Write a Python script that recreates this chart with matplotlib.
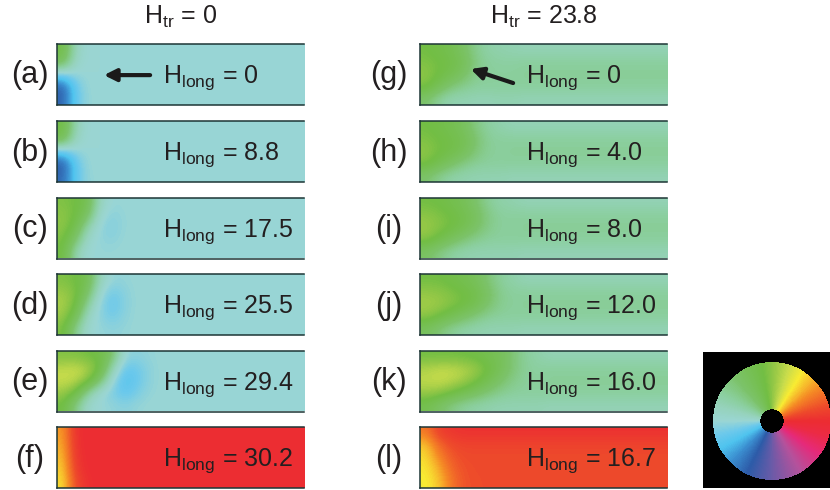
import matplotlib
matplotlib.use('Agg')
import matplotlib.pyplot as plt
import numpy as np
from matplotlib.colors import LinearSegmentedColormap

plt.rcParams['font.family'] = ['Liberation Sans', 'DejaVu Sans']
plt.rcParams['mathtext.fontset'] = 'custom'
plt.rcParams['mathtext.rm'] = 'Liberation Sans'
plt.rcParams['mathtext.it'] = 'Liberation Sans:italic'

W, H = 830, 490

# magnetisation angle (deg, counter-clockwise from +x) -> colour
wheel_angles = [0, 15, 35, 58, 72, 85, 100, 130, 150, 165, 180, 195, 208,
                225, 245, 270, 300, 325, 345, 360]
wheel_colors = ['#ec2d32', '#ee4b2b', '#f58a25', '#f9ec33', '#c9dc4c', '#9aca47',
                '#72be44', '#7cc36a', '#8bcf9d', '#96d3bd', '#9bd6d4', '#6cc9ec',
                '#4fc4ef', '#3b8ed0', '#2d5ba8', '#6a5ba8', '#b5529c', '#e62a7a',
                '#ec2b45', '#ec2d32']

# field values per panel
h_tr = ['0', '23.8']
labels_left = ['(a)', '(b)', '(c)', '(d)', '(e)', '(f)']
labels_right = ['(g)', '(h)', '(i)', '(j)', '(k)', '(l)']
h_long_left = ['0', '8.8', '17.5', '25.5', '29.4', '30.2']
h_long_right = ['0', '4.0', '8.0', '12.0', '16.0', '16.7']

# coarse angle maps: 5 rows x 20 columns; explicit left part, rest = row background
bg_cyan = [180, 180, 180, 180, 180]
bg_mint = [162, 150, 148, 150, 162]

map_a = [[105, 165, 180], [118, 172, 180], [192, 182, 180],
         [242, 196, 180], [242, 198, 181]]
map_b = [[102, 160, 180], [112, 168, 180], [200, 184, 180],
         [245, 200, 180], [240, 200, 182]]
map_c = [[95, 100, 112, 168, 182, 180], [90, 100, 125, 178, 186, 181],
         [90, 108, 158, 184, 188, 181], [95, 130, 174, 183, 185, 180],
         [100, 158, 180, 181, 181, 180]]
map_d = [[95, 100, 112, 165, 183, 182, 180], [85, 95, 125, 178, 194, 185, 180],
         [80, 98, 150, 186, 198, 186, 180], [85, 115, 170, 185, 193, 184, 180],
         [95, 145, 177, 182, 184, 182, 180]]
map_e = [[95, 95, 100, 105, 130, 183, 185, 182, 180],
         [75, 72, 80, 100, 160, 198, 194, 184, 180],
         [72, 75, 90, 130, 182, 205, 196, 184, 180],
         [85, 100, 150, 180, 190, 200, 190, 182, 180],
         [100, 140, 175, 180, 183, 186, 182, 180, 180]]
map_f = [[40, 2, 0], [44, 3, 0], [48, 5, 0], [52, 8, 0], [56, 14, 2]]
bg_f = [0, 0, 0, 0, 0]

map_g = [[100, 105, 110, 125, 145, 155, 158, 160],
         [95, 100, 105, 115, 140, 150, 152, 152],
         [90, 100, 110, 125, 145, 150, 150, 150],
         [95, 115, 135, 145, 150, 150, 150, 150],
         [130, 150, 160, 160, 162, 162, 160, 160]]
map_h = [[100, 105, 110, 120, 140, 152, 158],
         [95, 100, 105, 112, 130, 148, 150],
         [90, 98, 105, 115, 135, 148, 150],
         [95, 110, 125, 140, 148, 150, 150],
         [130, 145, 155, 158, 160, 160, 160]]
map_i = [[100, 102, 108, 115, 130, 148, 156, 158],
         [90, 95, 100, 108, 120, 140, 150, 150],
         [85, 92, 100, 110, 125, 142, 150, 150],
         [92, 105, 120, 135, 145, 150, 150, 150],
         [125, 140, 152, 158, 160, 160, 160, 160]]
map_j = [[100, 100, 105, 110, 118, 135, 150, 156],
         [88, 90, 95, 100, 108, 125, 145, 150],
         [82, 85, 92, 100, 110, 130, 145, 150],
         [90, 100, 112, 125, 138, 148, 150, 150],
         [120, 135, 148, 155, 158, 160, 160, 160]]
map_k = [[100, 100, 100, 102, 105, 110, 118, 135, 150, 156],
         [80, 75, 75, 78, 85, 100, 115, 135, 148, 152],
         [75, 72, 75, 82, 95, 110, 128, 142, 150, 150],
         [85, 88, 98, 110, 122, 135, 145, 150, 150, 150],
         [110, 125, 140, 150, 155, 158, 160, 160, 160, 160]]
map_l = [[30, 10, 5, 3, 3], [50, 25, 15, 12, 12], [55, 35, 20, 15, 15],
         [58, 45, 25, 17, 15], [60, 50, 30, 18, 16]]
bg_l = [3, 12, 15, 15, 15]

maps_left = [(map_a, bg_cyan), (map_b, bg_cyan), (map_c, bg_cyan),
             (map_d, bg_cyan), (map_e, bg_cyan), (map_f, bg_f)]
maps_right = [(map_g, bg_mint), (map_h, bg_mint), (map_i, bg_mint),
              (map_j, bg_mint), (map_k, bg_mint), (map_l, bg_l)]

cmap = LinearSegmentedColormap.from_list(
    'hue', [(a / 360, c) for a, c in zip(wheel_angles, wheel_colors)])
cmap.set_bad((0, 0, 0, 0))

fig = plt.figure(figsize=(W / 100, H / 100), dpi=100)


def px_axes(x, y, w, h):
    return fig.add_axes([x / W, 1 - (y + h) / H, w / W, h / H])


def build_grid(block, bg, ncols=20):
    grid = np.tile(np.array(bg, dtype=float)[:, None], (1, ncols))
    for r, row in enumerate(block):
        grid[r, :len(row)] = row
    return grid


panel_w, panel_h = 247, 61
tops = [44, 121, 197.5, 274, 350.5, 427]
cols = [(57, labels_left, h_long_left, maps_left),
        (420, labels_right, h_long_right, maps_right)]

for col_i, (x0, labels, hl, maps) in enumerate(cols):
    fig.text((x0 + panel_w / 2) / W, 1 - 17 / H, r'H$_{\mathrm{tr}}$ = ' + h_tr[col_i],
             ha='center', va='center', fontsize=18, color='#231f20')
    for i, top in enumerate(tops):
        ax = px_axes(x0, top, panel_w, panel_h)
        block, bg = maps[i]
        ax.imshow(build_grid(block, bg), extent=(0, 1, 0, 1), aspect='auto',
                  cmap=cmap, vmin=0, vmax=360, interpolation='bicubic',
                  interpolation_stage='data')
        ax.set_xlim(0, 1)
        ax.set_ylim(0, 1)
        ax.set_xticks([])
        ax.set_yticks([])
        ax.spines['right'].set_visible(False)
        for s in ['top', 'bottom', 'left']:
            ax.spines[s].set_color('#1d3535')
            ax.spines[s].set_linewidth(1.1)
        ax.text(0.43, 0.36, r'H$_{\mathrm{long}}$ = ' + hl[i], transform=ax.transAxes,
                ha='left', va='baseline', fontsize=18, color='#231f20')
        lx = 30 if col_i == 0 else 389
        fig.text(lx / W, 1 - (top + panel_h / 2 + 1) / H, labels[i],
                 ha='center', va='center', fontsize=22, color='#231f20')

        if i == 0:
            if col_i == 0:
                tail, tip = (0.377, 0.49), (0.19, 0.49)
            else:
                tail, tip = (0.377, 0.36), (0.205, 0.59)
            ax.annotate('', xy=tip, xytext=tail, xycoords='axes fraction',
                        arrowprops=dict(arrowstyle='-|>', lw=3, color='#1a1a1a',
                                        mutation_scale=18, shrinkA=0, shrinkB=0))

# colour wheel legend
bg_ax = px_axes(703, 352, 127, 136)
bg_ax.set_facecolor('black')
bg_ax.set_xticks([])
bg_ax.set_yticks([])
for s in bg_ax.spines.values():
    s.set_visible(False)

wax = px_axes(713, 362, 118, 118)
wax.set_axis_off()
g = np.linspace(-1, 1, 240)
xx, yy = np.meshgrid(g, g)
rr = np.hypot(xx, yy)
ang = np.degrees(np.arctan2(yy, xx)) % 360
ang[(rr > 1) | (rr < 0.2)] = np.nan
wax.imshow(ang, extent=(-1, 1, -1, 1), origin='lower', cmap=cmap, vmin=0, vmax=360,
           interpolation='nearest')

fig.savefig('out.png', dpi=100)
